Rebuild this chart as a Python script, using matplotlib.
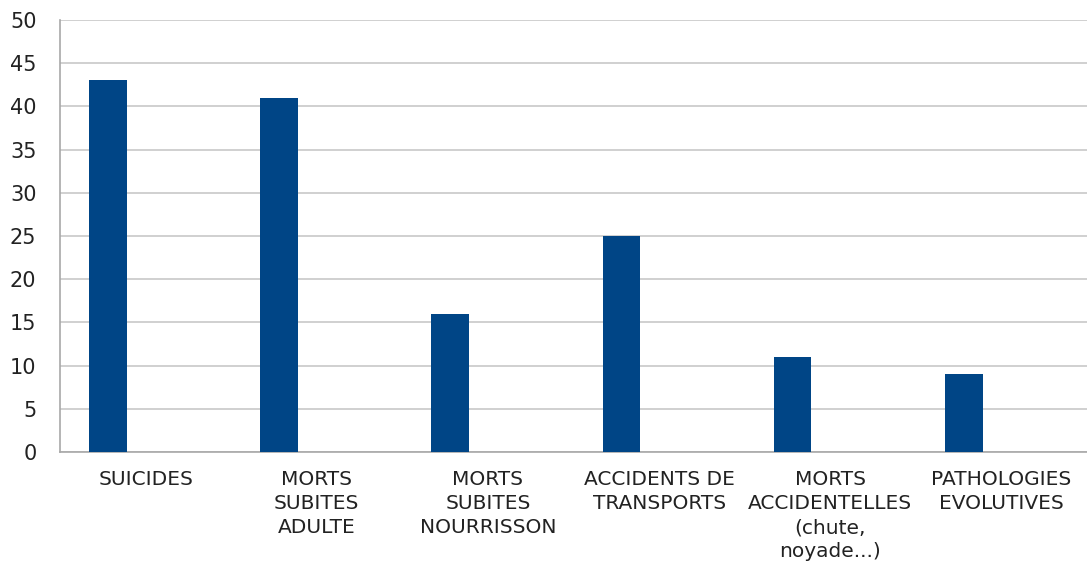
import numpy as np
import matplotlib.pyplot as plt

plt.rcParams['font.family'] = ['DejaVu Sans']

categories = ['SUICIDES', 'MORTS\nSUBITES\nADULTE', 'MORTS\nSUBITES\nNOURRISSON',
              'ACCIDENTS DE\nTRANSPORTS', 'MORTS\nACCIDENTELLES\n(chute,\nnoyade...)',
              'PATHOLOGIES\nEVOLUTIVES']
values = [43, 41, 16, 25, 11, 9]
yticks = [0, 5, 10, 15, 20, 25, 30, 35, 40, 45, 50]

fig = plt.figure(figsize=(10.87, 5.67), dpi=100)
ax = fig.add_axes([0.0552, 0.2028, 0.9448, 0.7619])

x = np.arange(len(categories))
# barre a gauche de chaque categorie (2e serie vide)
ax.bar(x + 0.17, values, width=0.22, align='edge', color='#004586', zorder=3)

ax.set_xlim(0, len(categories))
ax.set_ylim(0, 50)
ax.set_yticks(yticks)
ax.set_xticks(x + 0.5)
ax.set_xticklabels(categories, fontsize=14.5, color='#222222', linespacing=1.34,
                   va='top')
ax.tick_params(axis='x', length=0, pad=13)
ax.tick_params(axis='y', length=0, pad=17, labelsize=15, labelcolor='#222222')

ax.grid(axis='y', color='#c8c8c8', linewidth=1.2, zorder=0)
for s in ['top', 'right']:
    ax.spines[s].set_visible(False)
for s in ['left', 'bottom']:
    ax.spines[s].set_color('#a8a8a8')
    ax.spines[s].set_linewidth(1.2)

fig.savefig('out.png')
